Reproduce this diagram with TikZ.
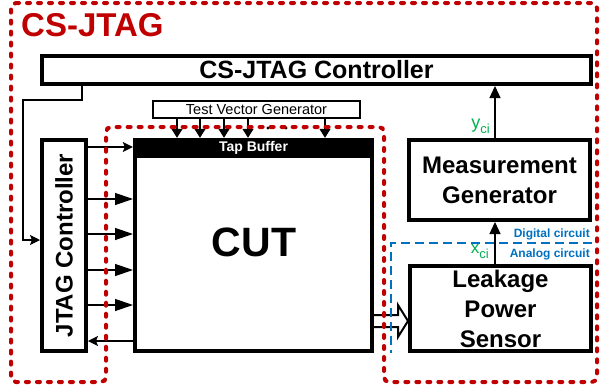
\documentclass[tikz,border=0pt]{standalone}
\usepackage{fontspec}
\setmainfont{Liberation Sans}
\usetikzlibrary{arrows.meta}
\definecolor{csred}{RGB}{192,0,0}
\definecolor{csgreen}{RGB}{0,176,80}
\definecolor{csblue}{RGB}{0,112,192}
\tikzset{
	block/.style={draw, line width=4pt, inner sep=0pt, align=center, font=\fontsize{24}{30}\selectfont\bfseries},
	wire/.style={line width=1.3pt},
	bigtip/.style={-{Triangle[length=18pt,width=12pt]}},
	smalltip/.style={-{Stealth[length=10pt,width=10pt,inset=2pt]}},
	downtip/.style={-{Triangle[length=9pt,width=11pt]}},
	uptip/.style={-{Triangle[length=12pt,width=11pt]}},
	redzone/.style={csred, line width=4pt, dash pattern=on 3pt off 8pt, line cap=round, rounded corners=5pt},
}

\begin{document}
\begin{tikzpicture}[x=1pt, y=-1pt]
\useasboundingbox (0,0) rectangle (603,389);

\node[csred, anchor=base west, inner sep=0pt, font=\fontsize{33}{33}\selectfont\bfseries] (title) at (21,36) {CS-JTAG};

\node[block, minimum width=549pt, minimum height=28pt, font=\fontsize{25}{25}\selectfont\bfseries] (csctrl) at (316.5,70) {CS-JTAG Controller};
\node[block, rotate=90, minimum width=211pt, minimum height=44pt] (jtag) at (64,245.5) {JTAG Controller};
\node[block, minimum width=237pt, minimum height=211pt] (cut) at (253.5,245.5) {};
\node[fill=black, text=white, inner sep=0pt, minimum width=241pt, minimum height=20pt, font=\fontsize{14}{14}\selectfont\bfseries] (tap) at (253.5,148) {Tap Buffer};
\node[inner sep=0pt, font=\fontsize{41}{41}\selectfont\bfseries] (cutlabel) at (254,242.5) {CUT};
\node[draw, line width=1.2pt, inner sep=0pt, minimum width=207pt, minimum height=17pt, font=\fontsize{14.5}{15}\selectfont] (tvg) at (256.5,109.5) {Test Vector Generator};
\node[block, minimum width=181pt, minimum height=80pt] (meas) at (499.5,180) {Measurement\\Generator};
\node[block, minimum width=181pt, minimum height=85pt] (lps) at (500.5,308.5) {Leakage\\Power\\Sensor};

\foreach \x in {177,200,224,248,325}
	\draw[wire, downtip] (tvg.south -| \x,0) -- (tap.north -| \x,0);
\foreach \x in {268,286,304}
	\fill (\x,128) circle (1.7pt);

\draw[wire, smalltip] (csctrl.south -| 82,0) -- (82,100) -- (23,100) |- (jtag.north |- 0,240);
\draw[wire, smalltip] (jtag.south |- 0,147) -- (tap.west |- 0,147);
\foreach \y in {199,234,270,305}
	\draw[wire, bigtip] (jtag.south |- 0,\y) -- (cut.west |- 0,\y);
\draw[wire, smalltip] (cut.west |- 0,341) -- (jtag.south |- 0,341);

\def\ax{495}
\draw[wire, uptip] (meas.north -| \ax,0) -- (csctrl.south -| \ax,0);
\draw[wire, uptip] (lps.north -| \ax,0) -- (meas.south -| \ax,0);
\node[csgreen, anchor=base east, inner sep=0pt] (ylab) at (490,128.5) {\fontsize{18}{18}\selectfont y\fontsize{13}{13}\selectfont\raisebox{-4.5pt}{ci}};
\node[csgreen, anchor=base east, inner sep=0pt] (xlab) at (489,253.5) {\fontsize{17}{17}\selectfont x\fontsize{13}{13}\selectfont\raisebox{-4.5pt}{ci}};

\draw[line width=2pt, line join=miter] (cut.east |- 0,315) -- (398,315) -- (398,305) -- (lps.west |- 0,321) -- (398,337) -- (398,327) -- (cut.east |- 0,327);

\draw[csblue, line width=1.2pt, dash pattern=on 9pt off 5pt] (592,243) -- (391,243) -- (391,353);
\node[csblue, anchor=base east, inner sep=0pt, font=\fontsize{12}{12}\selectfont\bfseries] (digital) at (590,237) {Digital circuit};
\node[csblue, anchor=base east, inner sep=0pt, font=\fontsize{12}{12}\selectfont\bfseries] (analog) at (590,257) {Analog circuit};

\draw[redzone] (11,3) -- (597,3) -- (597,382) -- (384,382) -- (384,127) -- (106,127) -- (106,382) -- (11,382) -- cycle;

\end{tikzpicture}
\end{document}
